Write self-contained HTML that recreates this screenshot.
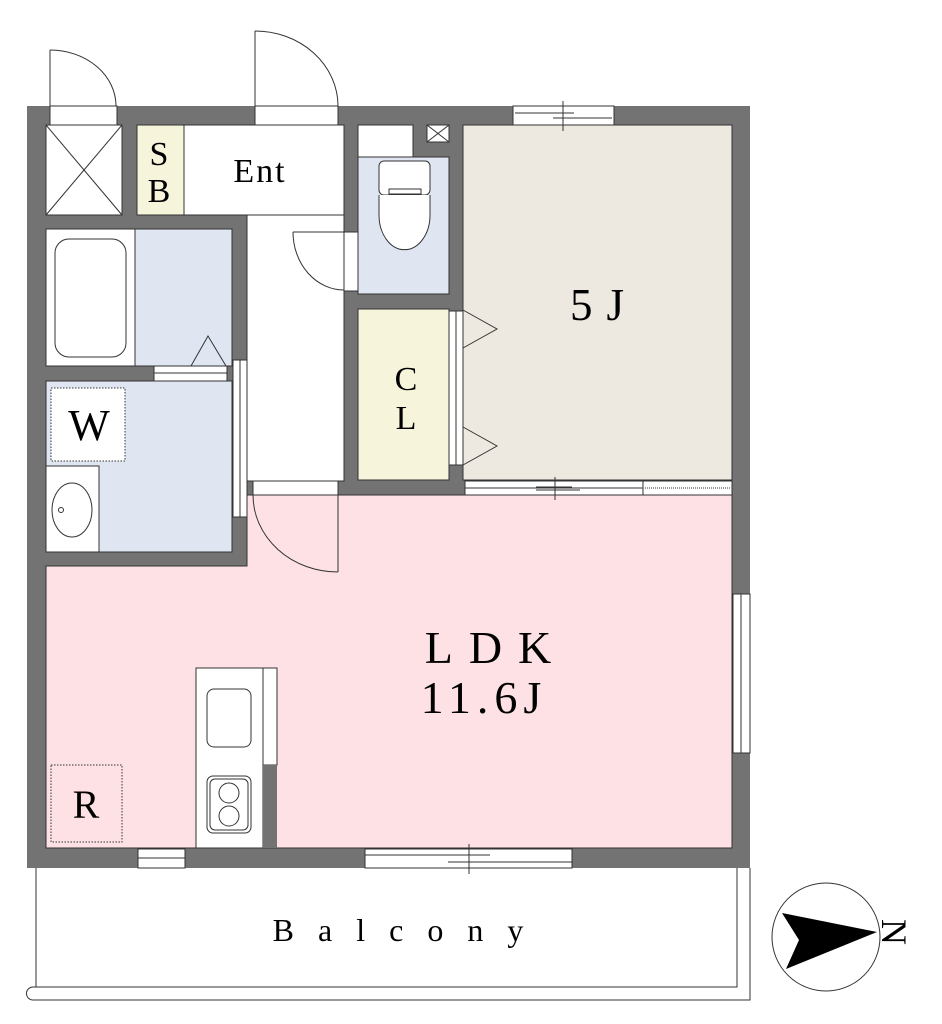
<!DOCTYPE html>
<html><head><meta charset="utf-8"><style>
html,body{margin:0;padding:0;background:#fff;}
svg{display:block;}
text{font-family:"Liberation Serif",serif;fill:#000;}
</style></head><body>
<svg width="942" height="1024" viewBox="0 0 942 1024" xmlns="http://www.w3.org/2000/svg">
<g fill="none" stroke="#333" stroke-width="1">
<line x1="50" y1="50" x2="50" y2="106"/>
<path d="M50,50 A66,56 0 0 1 116,106"/>
<line x1="255" y1="31" x2="255" y2="106"/>
<path d="M255,31 A83,75 0 0 1 338,106"/>
</g>
<rect x="27" y="106" width="723" height="762" fill="#737373"/>
<g stroke="#333" stroke-width="1">
<rect x="46" y="125" width="76" height="90" fill="#fff"/>
<rect x="137" y="125" width="47" height="90" fill="#f7f4dc"/>
<rect x="184" y="125" width="160" height="90" fill="#fff"/>
<rect x="247" y="215" width="97" height="266" fill="#fff"/>
<rect x="46" y="229" width="186" height="137" fill="#dfe6f2"/>
<rect x="46" y="229" width="89" height="137" fill="#fff"/>
<rect x="46" y="381" width="186" height="171" fill="#dfe6f2"/>
<rect x="46" y="466" width="53" height="86" fill="#fff"/>
<rect x="358" y="125" width="55" height="32" fill="#fff"/>
<rect x="427" y="125" width="22" height="17" fill="#fff"/>
<rect x="358" y="157" width="91" height="137" fill="#dfe6f2"/>
<rect x="358" y="309" width="91" height="171" fill="#f7f4dc"/>
<rect x="463" y="125" width="269" height="355" fill="#ede9e0"/>
</g>
<path d="M247,495 H732 V848 H46 V566 H247 Z" fill="#fde1e4" stroke="#333" stroke-width="1"/>
<g fill="#fff" stroke="#333" stroke-width="1">
<rect x="50" y="106" width="67" height="19"/>
<rect x="255" y="106" width="83" height="19"/>
<rect x="513" y="106" width="101" height="19"/>
<rect x="344" y="232" width="14" height="59"/>
<rect x="154" y="366" width="73" height="15"/>
<rect x="233" y="360" width="14" height="157"/>
<rect x="253" y="481" width="85" height="14"/>
<rect x="449" y="311" width="14" height="154"/>
<rect x="465" y="481" width="267" height="14"/>
<rect x="733" y="594" width="17" height="159"/>
<rect x="138" y="849" width="47" height="19"/>
<rect x="365" y="849" width="207" height="19"/>
</g>
<g stroke="#333" stroke-width="1" fill="none">
<line x1="515" y1="113" x2="574" y2="113"/><line x1="553" y1="118" x2="612" y2="118"/><line x1="563" y1="101" x2="563" y2="131"/>
<line x1="465" y1="488" x2="643" y2="488"/><line x1="643" y1="481" x2="643" y2="495"/><line x1="536" y1="487" x2="572" y2="487"/><line x1="536" y1="490" x2="580" y2="490"/><line x1="555" y1="477" x2="555" y2="500"/>
<line x1="645" y1="488" x2="730" y2="488" stroke-dasharray="1,1"/>
<line x1="741" y1="594" x2="741" y2="753"/>
<line x1="138" y1="858" x2="185" y2="858"/>
<line x1="365" y1="855" x2="490" y2="855"/><line x1="448" y1="862" x2="572" y2="862"/><line x1="469" y1="844" x2="469" y2="874"/>
<line x1="240" y1="360" x2="240" y2="517"/>
<line x1="456" y1="311" x2="456" y2="465"/>
<line x1="227" y1="373" x2="154" y2="373"/>
<line x1="46" y1="125" x2="122" y2="215"/><line x1="122" y1="125" x2="46" y2="215"/>
<line x1="427" y1="125" x2="449" y2="142"/><line x1="449" y1="125" x2="427" y2="142"/>
<rect x="55" y="239" width="71" height="118" rx="14" fill="#fff"/>
<path d="M191,366 L208,336 L226,366"/>
<ellipse cx="72" cy="510" rx="20" ry="27"/>
<circle cx="61" cy="510" r="2.5"/>
<rect x="51" y="388" width="74" height="73" stroke-dasharray="1.5,1.5" fill="#fff"/>
<rect x="379" y="161" width="51" height="34" rx="5" fill="#fff"/>
<rect x="389" y="189" width="32" height="5" fill="#fff"/>
<path d="M379,195 V215 A25,34 0 0 0 430,215 V195" fill="#fff"/>
<line x1="293" y1="232" x2="344" y2="232"/>
<path d="M293,232 A51,58 0 0 0 344,290"/>
<line x1="338" y1="495" x2="338" y2="572"/>
<path d="M253,495 A85,77 0 0 0 338,572"/>
<path d="M463,310 L497,329 L463,348"/>
<path d="M463,427 L497,446 L463,465"/>
<rect x="196" y="668" width="67" height="180" fill="#fff"/>
<rect x="263" y="668" width="14" height="97" fill="#fff"/>
<rect x="263" y="765" width="14" height="83" fill="#737373" stroke="none"/>
<rect x="207" y="689" width="44" height="58" rx="7"/>
<rect x="207" y="776" width="44" height="57" rx="6"/>
<rect x="210" y="779" width="38" height="51" rx="5"/>
<circle cx="229" cy="793" r="10"/><circle cx="229" cy="816" r="10"/>
<rect x="51" y="765" width="71" height="77" stroke-dasharray="1.5,1.5"/>
<path d="M36,868 V987 H737 V868"/>
<path d="M750,868 V1000 H33 A6.5,6.5 0 0 1 33,987 H36"/>
<circle cx="826" cy="937" r="54"/>
</g>
<path d="M782,913 L877,932 L786,969 L799,940 Z" fill="#000"/>
<text x="0" y="0" font-size="36" transform="translate(882,932) rotate(90)" text-anchor="middle">N</text>
<text x="159" y="165" font-size="34" text-anchor="middle">S</text>
<text x="159" y="202" font-size="34" text-anchor="middle">B</text>
<text x="260" y="182" font-size="34" text-anchor="middle" letter-spacing="2">Ent</text>
<text x="89" y="440" font-size="44" text-anchor="middle">W</text>
<text x="406" y="390" font-size="34" text-anchor="middle">C</text>
<text x="406" y="429" font-size="34" text-anchor="middle">L</text>
<text x="604" y="320" font-size="45" text-anchor="middle" letter-spacing="14">5J</text>
<text x="496" y="663" font-size="46" text-anchor="middle" letter-spacing="16">LDK</text>
<text x="484" y="713" font-size="46" text-anchor="middle" letter-spacing="6">11.6J</text>
<text x="86" y="818" font-size="40" text-anchor="middle">R</text>
<text x="410" y="941" font-size="32" text-anchor="middle" letter-spacing="24">Balcony</text>
</svg>
</body></html>
